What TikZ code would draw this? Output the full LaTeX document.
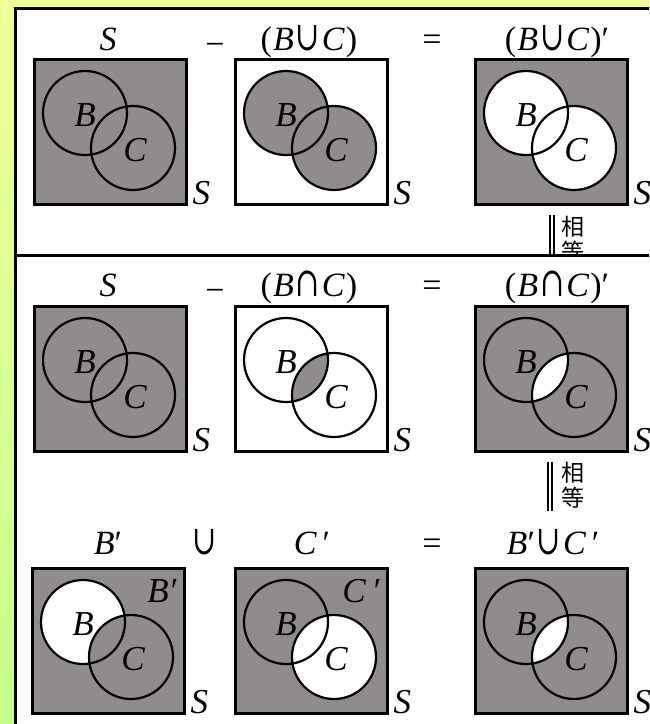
\documentclass[tikz,border=0pt]{standalone}
\usepackage{fontspec}
\setmainfont{Liberation Serif}
\newfontfamily\cjk{Noto Sans CJK SC}
\newfontfamily\opfont{DejaVu Serif}
\usetikzlibrary{calc}
\definecolor{bgtop}{HTML}{F0FF9A}
\definecolor{bgbot}{HTML}{C4FF8E}
\definecolor{venngray}{RGB}{143,139,143}
\newcommand{\vcup}{\kern2pt\scalebox{0.85}[1.2]{\opfont ∪}\kern2pt}
\newcommand{\vcap}{\kern2pt\scalebox{0.85}[1.2]{\opfont ∩}\kern2pt}
\newcommand{\vminus}{\raisebox{-5pt}{−}}
\tikzset{
  vbox/.style={draw=black,line width=2.5pt,minimum width=152pt,minimum height=145pt,inner sep=0pt,anchor=north west},
  ring/.style={draw=black,line width=2.2pt},
  ttl/.style={font=\fontsize{34}{36}\selectfont,inner sep=0pt,anchor=base},
  lbl/.style={font=\fontsize{35}{36}\selectfont\itshape,inner sep=0pt},
  eqmark/.style={font=\cjk\fontsize{23}{25}\selectfont,align=center,inner sep=0pt,anchor=north west},
  eqbar/.style={draw=black,line width=1.1pt},
}

\begin{document}
\begin{tikzpicture}[x=1pt,y=-1pt]
\useasboundingbox (0,0) rectangle (649,724);
\clip (0,0) rectangle (649,724);
\shade[top color=bgtop,bottom color=bgbot] (0,0) rectangle (649,724);
% frame and divider
\draw[line width=3pt,fill=white] (15,8) rectangle (700,780);
\draw[line width=3pt] (15,255) -- (700,255);
% titles
\foreach \n/\x/\y/\t in {1/108/50/{\textit{S}}, 2/215/50/{\vminus}, 3/309/50/{(\kern1pt\textit{B}\vcup\textit{C}\kern1pt)}, 4/432/50/{=}, 5/557/50/{(\kern1pt\textit{B}\vcup\textit{C}\kern1pt)′},
  6/108/296/{\textit{S}}, 7/215/296/{\vminus}, 8/309/296/{(\kern1pt\textit{B}\vcap\textit{C}\kern1pt)}, 9/432/296/{=}, 10/557/296/{(\kern1pt\textit{B}\vcap\textit{C}\kern1pt)′},
  11/108/554/{\textit{B}′}, 12/205/554/{\vcup}, 13/312/554/{\textit{C}\,′}, 14/432/554/{=}, 15/553/554/{\textit{B}′\vcup\textit{C}\,′}}
  \node[ttl] (t\n) at (\x,\y) {\t};
% venn boxes: box fill / B / C / B and C
\foreach \n/\x/\y/\bx/\bb/\cc/\ii in {
  1/33/58/venngray/venngray/venngray/venngray, 2/234/58/white/venngray/venngray/venngray, 3/474/58/venngray/white/white/white,
  4/33/305/venngray/venngray/venngray/venngray, 5/234/305/white/white/white/venngray, 6/474/305/venngray/venngray/venngray/white,
  7/31/567/venngray/white/venngray/venngray, 8/234/567/venngray/venngray/white/white, 9/474/567/venngray/venngray/venngray/white}{
  \node[vbox,fill=\bx] (box\n) at (\x,\y) {};
  \coordinate (cb\n) at ($(box\n.north west)+(52,55)$);
  \coordinate (cc\n) at ($(box\n.north west)+(100,90)$);
  \fill[\bb] (cb\n) circle[radius=42];
  \fill[\cc] (cc\n) circle[radius=42];
  \begin{scope}
    \clip (cb\n) circle[radius=42];
    \fill[\ii] (cc\n) circle[radius=42];
  \end{scope}
  \draw[ring] (cb\n) circle[radius=42] (cc\n) circle[radius=42];
  \node[lbl] (lb\n) at ($(cb\n)+(0,2)$) {B};
  \node[lbl] (lc\n) at ($(cc\n)+(2,2)$) {C};
  \node[lbl,anchor=base west] (s\n) at ($(box\n.south east)+(5,-1)$) {S};
}
\node[lbl,anchor=north east] (bp) at ($(box7.north east)+(-9,12)$) {B′};
\node[lbl,anchor=north east] (cp) at ($(box8.north east)+(-9,12)$) {C\,′};
% equal marks
\begin{scope}
  \clip (15,8) rectangle (649,255);
  \node[eqmark] (eq1) at (561,216) {相\\等};
  \draw[eqbar] ($(eq1.north west)+(-11,-1)$) -- ($(eq1.south west)+(-11,0)$);
  \draw[eqbar] ($(eq1.north west)+(-7,-1)$) -- ($(eq1.south west)+(-7,0)$);
\end{scope}
\node[eqmark] (eq2) at (561,462) {相\\等};
\draw[eqbar] ($(eq2.north west)+(-13,0)$) -- ($(eq2.south west)+(-13,2)$);
\draw[eqbar] ($(eq2.north west)+(-9,0)$) -- ($(eq2.south west)+(-9,2)$);
\end{tikzpicture}
\end{document}
